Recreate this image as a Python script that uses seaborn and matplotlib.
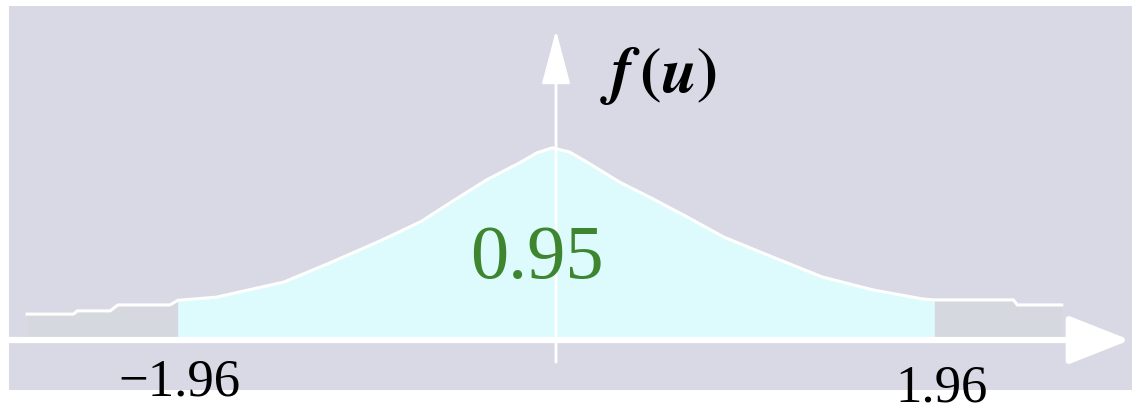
import seaborn as sns
import matplotlib.pyplot as plt
import numpy as np
import pandas as pd

# curva da densidade (u, f(u))
u = [-2.74, -2.50, -2.48, -2.31, -2.27, -2.00, -1.96, -1.76, -1.41, -1.16, -0.90, -0.70,
     -0.53, -0.36, -0.19, -0.10, -0.02, 0.07, 0.16, 0.33, 0.50, 0.68, 0.87, 1.12, 1.38,
     1.64, 1.90, 1.96, 2.37, 2.39, 2.62]
f = [0.050, 0.050, 0.057, 0.057, 0.070, 0.070, 0.080, 0.087, 0.120, 0.164, 0.212, 0.252,
     0.298, 0.343, 0.380, 0.402, 0.413, 0.404, 0.382, 0.338, 0.302, 0.262, 0.218, 0.175, 0.131,
     0.103, 0.083, 0.081, 0.081, 0.070, 0.070]
z_crit = 1.96
area = "0.95"
rotulos = ["\u22121.96", "1.96"]

df = pd.DataFrame({"u": u, "f": f})
dentro = df[(df.u >= -z_crit) & (df.u <= z_crit)]
esq = df[df.u <= -z_crit]
dir_ = df[df.u >= z_crit]

fundo = "#D8D9E5"
ciano = "#DDFBFD"
verde = "#3E8530"

plt.rcParams["mathtext.fontset"] = "stix"

fig = plt.figure(figsize=(11.32, 4.12), dpi=100)
fig.patch.set_facecolor("white")
ax = fig.add_axes([9 / 1132, 22 / 412, 1123 / 1132, 384 / 412])
ax.set_facecolor(fundo)
ax.set_xlim(-2.834, 2.984)
ax.set_ylim(-0.1157, 0.7227)
for s in ax.spines.values():
    s.set_visible(False)
ax.set_xticks([])
ax.set_yticks([])

# regiões fora do intervalo (tom ligeiramente diferente)
ax.fill_between(esq.u, 0, esq.f, color="#D5D8DE", lw=0)
ax.fill_between(dir_.u, 0, dir_.f, color="#D5D8DE", lw=0)
# área central
ax.fill_between(dentro.u, 0, dentro.f, color=ciano, lw=0, zorder=2)
sns.lineplot(data=df, x="u", y="f", color="white", lw=2.2, ax=ax, zorder=3, sort=False)
ax.set_xlabel("")
ax.set_ylabel("")

# eixos com setas
ax.annotate("", xy=(2.974, -0.0066), xytext=(-2.834, -0.0066),
            arrowprops=dict(arrowstyle="-|>,head_length=0.38,head_width=0.15",
                            color="white", lw=4.5, mutation_scale=100,
                            shrinkA=0, shrinkB=0), zorder=4)
ax.annotate("", xy=(0, 0.670), xytext=(0, -0.055),
            arrowprops=dict(arrowstyle="-|>,head_length=0.34,head_width=0.09",
                            color="white", lw=2, mutation_scale=100,
                            shrinkA=0, shrinkB=0), zorder=4)

serif = ["Liberation Serif", "DejaVu Serif"]
ax.text(0.528, 0.535, r"$\mathbfit{f}\,\mathbf{(}\mathbfit{u}\mathbf{)}$",
        fontsize=46, ha="center", va="baseline", zorder=5)
ax.text(-0.098, 0.129, area, family=serif, color=verde, fontsize=55,
        ha="center", va="baseline", zorder=5)
ax.text(-1.953, -0.127, rotulos[0], family=serif, fontsize=38,
        ha="center", va="baseline", clip_on=False, zorder=5)
ax.text(1.995, -0.140, rotulos[1], family=serif, fontsize=38,
        ha="center", va="baseline", clip_on=False, zorder=5)

plt.savefig("out.png", dpi=100, facecolor="white")
